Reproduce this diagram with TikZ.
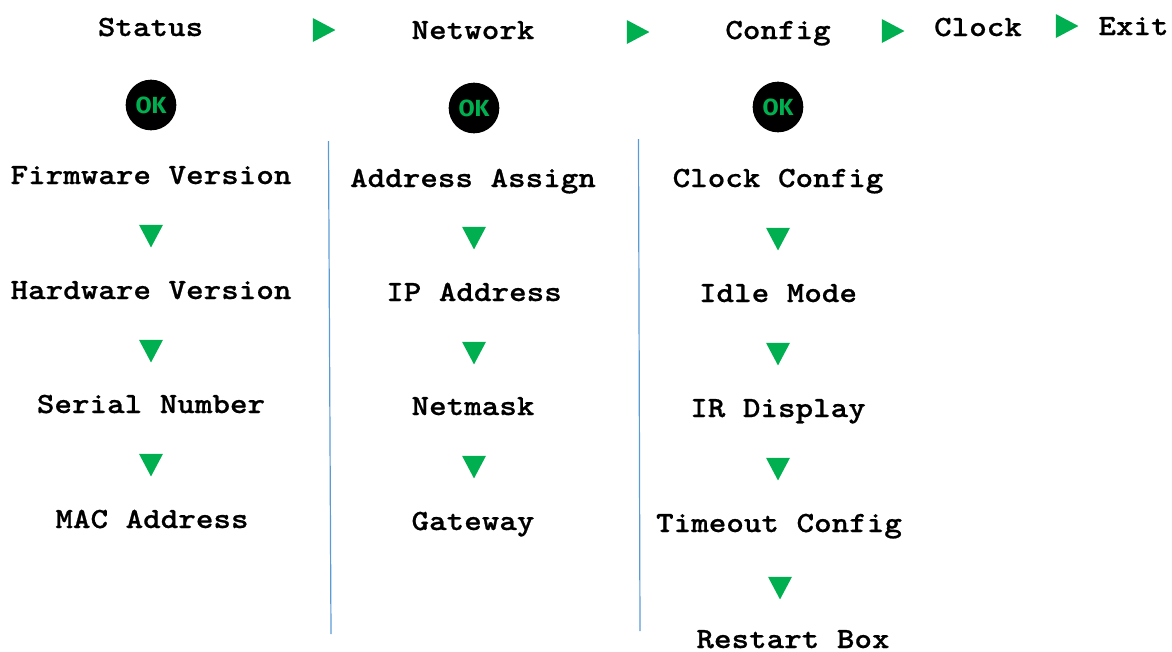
\documentclass[tikz,border=0pt]{standalone}
\usepackage{fontspec}
\newfontfamily\menufont[FakeStretch=1.14,FakeBold=0.7]{Latin Modern Mono Light}
\newfontfamily\okfont{Fira Sans}
\usetikzlibrary{shapes.geometric}
\definecolor{okgreen}{HTML}{00B050}
\definecolor{rulecolor}{HTML}{5B9BD5}
\begin{document}
\begin{tikzpicture}[x=0.75pt,y=-0.75pt]
				\tikzset{menuitem/.style={anchor=base,inner sep=0pt,font=\menufont\bfseries\fontsize{22}{24}\selectfont}}
				\tikzset{okbutton/.style={circle,fill=black,text=okgreen,inner sep=0pt,minimum size=38pt,font=\okfont\bfseries\fontsize{17.5}{18}\selectfont}}
				\tikzset{nextarrow/.style={isosceles triangle,isosceles triangle stretches,fill=okgreen,inner sep=0pt,minimum width=18pt,minimum height=17pt}}
				\tikzset{downarrow/.style={nextarrow,shape border rotate=-90,minimum width=18pt,minimum height=17pt}}
				\tikzset{divider/.style={draw=rulecolor,line width=0.9pt}}
				\useasboundingbox (0,0) rectangle (1172,651);
				\node[menuitem] (status) at (150.5,36) {Status};
				\node[menuitem] (network) at (473,39) {Network};
				\node[menuitem] (config) at (778,39) {Config};
				\node[menuitem] (clock) at (978,36) {Clock};
				\node[menuitem] (exit) at (1133.5,35) {Exit};
				\node[nextarrow] (nexta) at (320,30) {};
				\node[nextarrow] (nextb) at (634,32) {};
				\node[nextarrow] (nextc) at (889,31) {};
				\node[nextarrow] (nextd) at (1063,26) {};
				\node[okbutton] (oka) at (151,105) {OK};
				\node[okbutton] (okb) at (474,108) {OK};
				\node[okbutton] (okc) at (778,107) {OK};
				\node[menuitem] (firmware) at (151,184) {Firmware Version};
				\node[downarrow] (downa) at (151,232) {};
				\node[menuitem] (hardware) at (151,299) {Hardware Version};
				\node[downarrow] (downb) at (151,347) {};
				\node[menuitem] (serial) at (151,413) {Serial Number};
				\node[downarrow] (downc) at (151,461) {};
				\node[menuitem] (mac) at (152,528) {MAC Address};
				\node[menuitem] (assign) at (473,187) {Address Assign};
				\node[downarrow] (downd) at (474,234) {};
				\node[menuitem] (ip) at (474,301) {IP Address};
				\node[downarrow] (downe) at (474,349) {};
				\node[menuitem] (netmask) at (473,415) {Netmask};
				\node[downarrow] (downf) at (474,463) {};
				\node[menuitem] (gateway) at (473,530) {Gateway};
				\node[menuitem] (clockcfg) at (778,187) {Clock Config};
				\node[downarrow] (downg) at (778,235) {};
				\node[menuitem] (idle) at (778,302) {Idle Mode};
				\node[downarrow] (downh) at (778,350) {};
				\node[menuitem] (irdisplay) at (778,417) {IR Display};
				\node[downarrow] (downi) at (778,465) {};
				\node[menuitem] (timeout) at (779,532) {Timeout Config};
				\node[downarrow] (downj) at (780,584) {};
				\node[menuitem] (restart) at (793,648) {Restart Box};
				\coordinate (ruleatop) at (328.5,141);
				\coordinate (ruleabot) at (331,634);
				\coordinate (rulebtop) at (638.5,139);
				\coordinate (rulebbot) at (640,631);
				\draw[divider] (ruleatop) -- (ruleabot);
				\draw[divider] (rulebtop) -- (rulebbot);
			\end{tikzpicture}
\end{document}
